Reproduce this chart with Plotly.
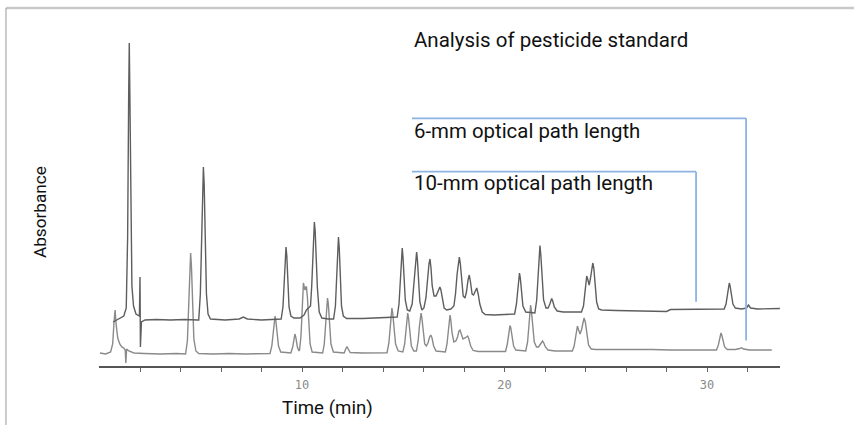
import plotly.graph_objects as go

# ---------------- data ----------------
# 6-mm optical path length trace (upper)
t_6mm = [0.67, 0.85, 1.05, 1.2, 1.32, 1.39, 1.44, 1.47, 1.5, 1.55, 1.6, 1.68, 1.8, 1.97,
         2.0, 2.02, 2.07, 2.25, 2.8, 3.5, 4.2, 4.85,
         4.9, 4.98, 5.04, 5.09, 5.13, 5.17, 5.22, 5.28, 5.36, 5.48,
         6.2, 6.9, 7.1, 7.3, 8.0, 8.8,
         8.97, 9.06, 9.12, 9.17, 9.21, 9.25, 9.3, 9.36, 9.45, 9.6, 9.9,
         10.1, 10.22, 10.32, 10.42, 10.48, 10.53, 10.57, 10.61, 10.65, 10.7, 10.76, 10.85, 10.98, 11.3,
         11.56, 11.65, 11.71, 11.76, 11.8, 11.84, 11.89, 11.95, 12.04, 12.2,
         13.0, 13.8, 14.5,
         14.7, 14.79, 14.86, 14.91, 14.95, 14.99, 15.04, 15.1, 15.2,
         15.32, 15.44, 15.52, 15.58, 15.62, 15.66, 15.7, 15.75, 15.82, 15.92,
         16.02, 16.12, 16.19, 16.27, 16.32, 16.37, 16.43, 16.52,
         16.62, 16.7, 16.76, 16.81, 16.86, 16.93, 17.02, 17.15, 17.35,
         17.5, 17.58, 17.66, 17.72, 17.77, 17.82, 17.88, 17.96, 18.05,
         18.12, 18.2, 18.26, 18.32, 18.4, 18.47,
         18.55, 18.63, 18.7, 18.78, 18.9, 19.05, 19.5, 20.2,
         20.5, 20.59, 20.66, 20.7, 20.74, 20.78, 20.83, 20.91, 21.05, 21.35,
         21.5, 21.59, 21.66, 21.71, 21.75, 21.79, 21.85, 21.93, 22.05,
         22.15, 22.24, 22.3, 22.33, 22.38, 22.46, 22.6, 22.9, 23.5,
         23.8, 23.9, 23.97, 24.02, 24.06, 24.12, 24.18, 24.24, 24.3, 24.36, 24.41, 24.47, 24.55, 24.65, 24.8,
         25.5, 26.5, 27.5, 28.0, 28.2, 29.0, 30.0,
         30.85, 30.94, 31.01, 31.06, 31.1, 31.14, 31.2, 31.28, 31.4, 31.7, 31.95, 32.05, 32.15, 32.5, 33.6]
a_6mm = [44, 46, 48, 50, 58, 130, 270, 323, 270, 140, 80, 60, 52, 50,
         89, 19, 44, 46, 46.5, 46, 46.5, 46,
         46, 72, 127, 181, 199, 181, 127, 72, 52, 47,
         46, 47, 49, 47, 46, 46.5,
         47, 59, 85, 110, 119, 110, 85, 59, 50, 48, 48,
         51, 56, 58, 60, 80, 110, 135, 144, 135, 110, 78, 54, 48, 47,
         47, 60, 90, 118, 129, 118, 90, 60, 50, 47.5,
         47.5, 48.5, 49,
         49, 62, 90, 108, 118, 108, 88, 66, 56,
         55, 62, 82, 100, 109, 114, 106, 85, 64, 56,
         58, 68, 86, 102, 107, 98, 80, 70,
         70, 74, 78, 79, 76, 67, 58, 56, 57,
         60, 72, 92, 104, 109, 102, 86, 70, 68,
         74, 86, 91, 84, 72, 71,
         75, 78, 72, 62, 54, 51.5, 51, 51.5,
         52, 62, 80, 88, 93, 88, 78, 60, 54, 53,
         53, 66, 95, 113, 120.5, 112, 88, 66, 58,
         58, 62, 67, 67.5, 65, 59, 55, 54, 54,
         54, 60, 75, 86, 90, 86, 81, 87, 98, 103, 98, 82, 64, 57, 56,
         55.5, 55, 54.5, 54.5, 56.5, 56.5, 56.5,
         57, 62, 72, 80, 83, 80, 71, 62, 58, 57, 58, 61, 58, 57, 57.5]

# 10-mm optical path length trace (lower)
t_10mm = [0.02, 0.3, 0.55, 0.65, 0.72, 0.77, 0.82, 0.9, 1.0, 1.1, 1.2, 1.27, 1.3, 1.34, 1.45, 1.7, 2.2, 3.0, 3.8,
          4.25, 4.34, 4.4, 4.46, 4.5, 4.54, 4.6, 4.66, 4.76, 4.9,
          5.6, 6.4, 7.2, 8.2,
          8.42, 8.51, 8.58, 8.63, 8.67, 8.71, 8.77, 8.84, 8.95, 9.3,
          9.45, 9.54, 9.6, 9.65, 9.7, 9.77, 9.85,
          9.88, 9.95, 10.0, 10.04, 10.07, 10.12, 10.15, 10.19, 10.22, 10.27, 10.33, 10.4, 10.5, 10.8,
          11.02, 11.1, 11.16, 11.21, 11.26, 11.3, 11.36, 11.43, 11.55, 11.9,
          12.08, 12.16, 12.22, 12.28, 12.38, 13.0, 13.8, 14.1,
          14.2, 14.29, 14.35, 14.4, 14.44, 14.48, 14.54, 14.62, 14.75, 14.9,
          14.98, 15.07, 15.13, 15.18, 15.22, 15.26, 15.32, 15.4, 15.52, 15.65,
          15.66, 15.74, 15.8, 15.84, 15.88, 15.92, 15.98, 16.06, 16.14,
          16.22, 16.3, 16.36, 16.42, 16.5, 16.62, 16.9,
          17.08, 17.16, 17.22, 17.27, 17.31, 17.35, 17.41, 17.5, 17.6,
          17.68, 17.75, 17.8, 17.86, 17.95, 18.05,
          18.12, 18.18, 18.24, 18.33, 18.45, 18.7, 19.5, 20.0,
          20.05, 20.14, 20.2, 20.24, 20.27, 20.31, 20.37, 20.45, 20.56, 20.9,
          21.05, 21.14, 21.2, 21.25, 21.29, 21.33, 21.39, 21.47, 21.58,
          21.68, 21.78, 21.84, 21.88, 21.93, 22.02, 22.15, 22.5, 23.2,
          23.35, 23.44, 23.51, 23.56, 23.6, 23.66, 23.73, 23.8, 23.87, 23.93, 23.99, 24.06, 24.15, 24.28, 24.5,
          25.5, 26.5, 27.3, 28.2, 29.5, 30.3,
          30.47, 30.56, 30.62, 30.66, 30.69, 30.73, 30.79, 30.87, 31.0, 31.4, 31.62, 31.71, 31.8, 32.1, 33.2]
a_10mm = [13, 12, 14, 22, 45, 56, 42, 28, 22, 19, 18, 16, 3, 17, 15, 13, 12.5, 12, 12.5,
          12, 25, 60, 100, 113, 100, 60, 27, 15, 12.5,
          12, 12.5, 12, 12.5,
          12.5, 20, 32, 45, 50, 45, 32, 20, 14, 13,
          13, 19, 28, 32, 28, 19, 15,
          16, 30, 60, 78, 83, 78, 76, 79, 79, 68, 42, 22, 14, 13,
          13, 22, 42, 60, 68, 62, 42, 22, 14, 13,
          13, 17, 19.3, 17, 13.5, 13, 13, 13.3,
          13.3, 23, 40, 53, 58, 53, 38, 22, 15, 14,
          14, 22, 36, 48, 53, 48, 34, 20, 15, 15,
          16, 26, 40, 50, 53, 48, 34, 22, 20,
          23, 29, 31, 28, 20, 15, 14,
          14, 22, 36, 47, 51, 46, 33, 24, 25,
          29, 35, 36, 33, 27, 28,
          29, 30, 27, 20, 15.5, 14.5, 14.5, 14.5,
          14.5, 22, 32, 38, 40.5, 38, 30, 20, 16, 15,
          15, 24, 42, 56, 61, 55, 38, 24, 19,
          19, 22, 24.5, 25, 23.5, 19, 16, 15, 15,
          15, 20, 30, 38, 40, 36, 32, 36, 45, 48, 44, 32, 21, 17, 16.5,
          16.5, 16.7, 16.5, 16, 16, 16,
          16, 21, 28, 32, 33, 31, 25, 19, 16.5, 16.5, 17.5, 18.3, 17, 16, 16]

x_tick_vals = [2, 4, 6, 8, 10, 12, 14, 16, 18, 20, 22, 24, 26, 28, 30, 32]
x_tick_text = ["", "", "", "", "10", "", "", "", "", "20", "", "", "", "", "30", ""]

title_text = "Analysis of pesticide standard"
label_6mm = "6-mm optical path length"
label_10mm = "10-mm optical path length"
x_title = "Time (min)"
y_title = "Absorbance"

# leader lines (data coords): label start time, corner time, corner level, end level
lead_6mm = dict(t0=15.43, t1=31.93, a_top=247.7, a_end=25.5)
lead_10mm = dict(t0=15.43, t1=29.46, a_top=194.3, a_end=64.3)

# ---------------- figure ----------------
TXT_FONT = "Roboto, Liberation Sans, sans-serif"

fig = go.Figure()
fig.add_trace(go.Scatter(x=t_10mm, y=a_10mm, mode="lines",
                         line=dict(color="#8a8a8a", width=1.4), hoverinfo="skip"))
fig.add_trace(go.Scatter(x=t_6mm, y=a_6mm, mode="lines",
                         line=dict(color="#5e5e5e", width=1.4), hoverinfo="skip"))

blue = "#8db3e2"
for ld in (lead_6mm, lead_10mm):
    fig.add_shape(type="line", x0=ld["t0"], x1=ld["t1"], y0=ld["a_top"], y1=ld["a_top"],
                  xref="x", yref="y", line=dict(color=blue, width=1.8))
    fig.add_shape(type="line", x0=ld["t1"], x1=ld["t1"], y0=ld["a_top"], y1=ld["a_end"],
                  xref="x", yref="y", line=dict(color=blue, width=1.8))

# outer frame (top and left)
fig.add_shape(type="line", xref="paper", yref="paper", x0=-0.1366, x1=1.2, y0=1.0056, y1=1.0056,
              line=dict(color="#c8c8c8", width=2.5))
fig.add_shape(type="line", xref="paper", yref="paper", x0=-0.1366, x1=-0.1366, y0=1.0056, y1=-0.2,
              line=dict(color="#9a9a9a", width=1))

fig.add_annotation(text=title_text, x=0.4596, y=0.9157, xref="paper", yref="paper",
                   xanchor="left", yanchor="middle", showarrow=False,
                   font=dict(family=TXT_FONT, size=20.5, color="#111"))
fig.add_annotation(text=label_6mm, x=0.4596, y=0.660, xref="paper", yref="paper",
                   xanchor="left", yanchor="middle", showarrow=False,
                   font=dict(family=TXT_FONT, size=20.4, color="#111"))
fig.add_annotation(text=label_10mm, x=0.4596, y=0.514, xref="paper", yref="paper",
                   xanchor="left", yanchor="middle", showarrow=False,
                   font=dict(family=TXT_FONT, size=20.5, color="#111"))
fig.add_annotation(text=y_title, x=-0.0866, y=0.4326, xref="paper", yref="paper",
                   xanchor="center", yanchor="middle", showarrow=False, textangle=-90,
                   font=dict(family=TXT_FONT, size=17.2, color="#111"))
fig.add_annotation(text=x_title, x=0.336, y=-0.118, xref="paper", yref="paper",
                   xanchor="center", yanchor="middle", showarrow=False,
                   font=dict(family=TXT_FONT, size=18.7, color="#111"))

fig.update_layout(
    width=854, height=425,
    margin=dict(l=99, r=74, t=10, b=59),
    paper_bgcolor="white", plot_bgcolor="white",
    showlegend=False,
    xaxis=dict(range=[-0.025, 33.605], showgrid=False, zeroline=False,
               showline=True, linecolor="#555", linewidth=1.5,
               ticks="outside", ticklen=4, tickwidth=1, tickcolor="#666",
               ticklabelstandoff=3,
               tickvals=x_tick_vals, ticktext=x_tick_text,
               tickfont=dict(family="DejaVu Sans Mono, monospace", size=12, color="#8a8a8a")),
    yaxis=dict(range=[0, 356], showgrid=False, zeroline=False, showline=False,
               showticklabels=False, ticks=""),
)

fig.write_html("out.html", config={"displayModeBar": False},
               post_script="document.body.style.margin='0px';")
